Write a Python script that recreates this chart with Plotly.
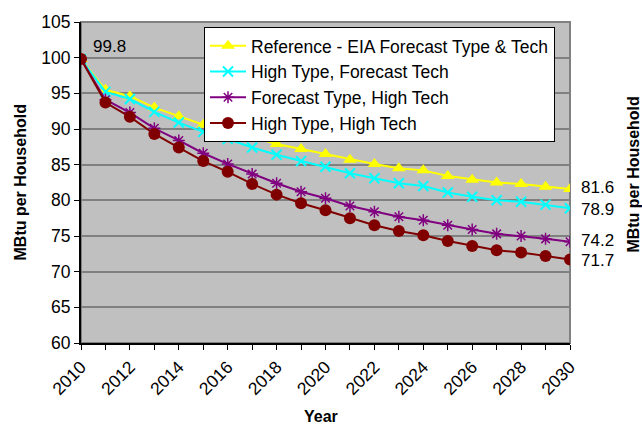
import plotly.graph_objects as go

years = list(range(2010, 2031))

reference = [99.8, 95.5, 94.6, 93.0, 91.8, 90.6, 89.8, 88.8, 87.9, 87.2, 86.5,
             85.7, 85.1, 84.5, 84.2, 83.4, 82.9, 82.5, 82.3, 81.9, 81.6]
high_type_fc_tech = [99.8, 95.2, 94.2, 92.4, 90.9, 89.6, 88.6, 87.4, 86.4, 85.5, 84.7,
                     83.8, 83.1, 82.4, 82.0, 81.1, 80.5, 80.0, 79.8, 79.4, 78.9]
fc_type_high_tech = [99.8, 94.1, 92.3, 90.1, 88.4, 86.6, 85.1, 83.7, 82.4, 81.2, 80.3,
                     79.2, 78.4, 77.7, 77.2, 76.5, 75.9, 75.3, 75.0, 74.6, 74.2]
high_type_high_tech = [99.8, 93.7, 91.7, 89.3, 87.4, 85.5, 84.0, 82.3, 80.8, 79.6, 78.6,
                       77.5, 76.5, 75.7, 75.1, 74.3, 73.6, 73.0, 72.7, 72.2, 71.7]

series = [
    ("Reference - EIA Forecast Type & Tech", reference, "#FFFF00",
     dict(symbol="triangle-up", size=12)),
    ("High Type, Forecast Tech", high_type_fc_tech, "#00FFFF",
     dict(symbol="x-thin-open", size=10, line=dict(width=2, color="#00FFFF"))),
    ("Forecast Type, High Tech", fc_type_high_tech, "#800080",
     dict(symbol="asterisk-open", size=10, line=dict(width=1.5, color="#800080"))),
    ("High Type, High Tech", high_type_high_tech, "#800000",
     dict(symbol="circle", size=12)),
]

fig = go.Figure()
for name, vals, color, marker in series:
    m = dict(color=color, **marker)
    fig.add_trace(go.Scatter(x=years, y=vals, mode="lines+markers", name=name,
                             line=dict(color=color, width=2), marker=m))

font = "Liberation Sans, Arial, sans-serif"
label_size = 17

# value labels: first point and the 2030 end points
annotations = [dict(x=years[0], y=reference[0], text=f"{reference[0]:.1f}",
                    xref="x", yref="y", showarrow=False, xanchor="left",
                    yanchor="bottom", xshift=10, yshift=1,
                    font=dict(size=label_size, color="black", family=font))]
end_shift = {"Reference - EIA Forecast Type & Tech": 1,
             "High Type, Forecast Tech": -1,
             "Forecast Type, High Tech": 1,
             "High Type, High Tech": -1}
for name, vals, color, marker in series:
    annotations.append(dict(x=years[-1], y=vals[-1], text=f"{vals[-1]:.1f}",
                            xref="x", yref="y", showarrow=False, xanchor="left",
                            yanchor="middle", xshift=9, yshift=end_shift[name],
                            font=dict(size=label_size, color="black", family=font)))

# axis titles, placed in pixels then converted to paper coordinates
L, R, T, B = 81, 72, 17, 85
W, H = 642, 428
pw, ph = W - L - R, H - T - B
title_font = dict(size=16, color="black", family=font)
for px, py, text, angle in [(20, 180, "<b>MBtu per Household</b>", -90),
                            (321, 418, "<b>Year</b>", 0),
                            (634, 172, "<b>MBtu per Household</b>", -90)]:
    annotations.append(dict(x=(px - L) / pw, y=(H - B - py) / ph, xref="paper",
                            yref="paper", text=text, textangle=angle,
                            showarrow=False, xanchor="center", yanchor="middle",
                            font=title_font))

fig.update_layout(
    width=W, height=H,
    margin=dict(l=L, r=R, t=T, b=B),
    paper_bgcolor="white",
    plot_bgcolor="#C0C0C0",
    font=dict(family=font, size=17.5, color="black"),
    showlegend=True,
    legend=dict(x=(204 - L) / pw, y=(H - B - 22) / ph, xanchor="left", yanchor="top",
                bgcolor="white", bordercolor="black", borderwidth=1,
                font=dict(size=17.5, family=font), tracegroupgap=0,
                itemwidth=36, traceorder="normal"),
    annotations=annotations,
    xaxis=dict(range=[2010, 2030], tickvals=list(range(2010, 2031, 2)),
               tickangle=-45, ticks="outside", ticklen=5, tickcolor="black",
               showline=True, linecolor="black", linewidth=2, showgrid=False,
               zeroline=False, tickfont=dict(size=17.5),
               minor=dict(tickvals=years, ticks="outside", ticklen=5,
                          tickcolor="black", showgrid=False)),
    yaxis=dict(range=[60, 105], dtick=5, ticks="outside", ticklen=5,
               tickcolor="black", showline=True, linecolor="black", linewidth=2,
               showgrid=True, gridcolor="#808080", gridwidth=1.5, zeroline=False,
               tickfont=dict(size=17.5)),
)

# gray plot-area border on the top and right
fig.add_shape(type="rect", xref="paper", yref="paper", x0=0, y0=0, x1=1, y1=1,
              line=dict(color="#808080", width=2), layer="below")

fig.write_html("out.html")
